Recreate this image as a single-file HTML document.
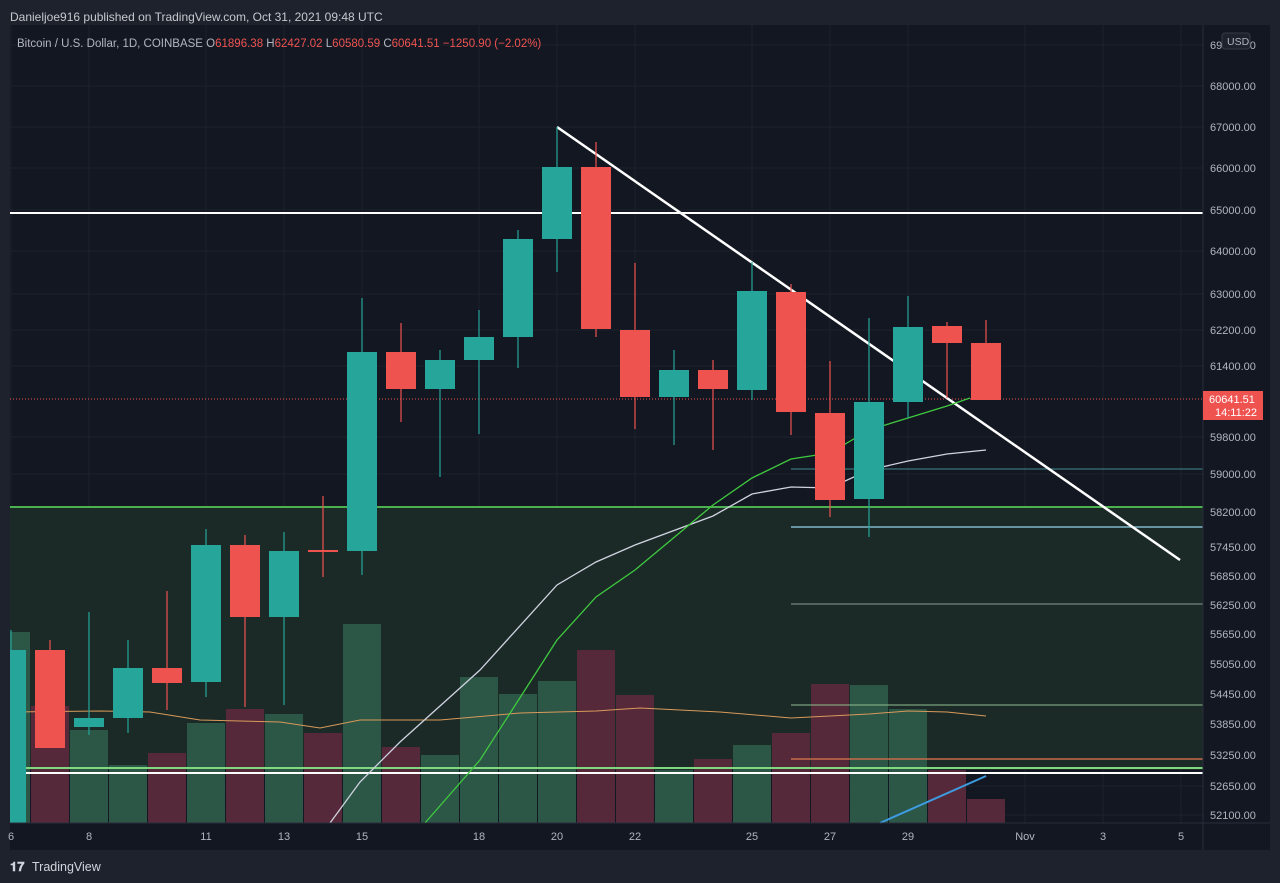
<!DOCTYPE html>
<html><head><meta charset="utf-8">
<style>
html,body{margin:0;padding:0;background:#1e222d;width:1280px;height:883px;overflow:hidden;font-family:"Liberation Sans",sans-serif}
svg{display:block}
</style></head><body>
<svg id="s" width="1280" height="883" xmlns="http://www.w3.org/2000/svg">
<rect width="1280" height="883" fill="#1e222d"/>
<rect x="10" y="25" width="1260" height="825" fill="#131722"/>
<g id="grid"></g>
<rect x="10" y="507" width="1193" height="263" fill="#1b2a27"/>
<g id="vol"></g>
<g id="ind"></g>
<g id="cdl"></g>
<g id="ax"></g>
<text x="10" y="21" fill="#c6c8ce" font-size="12">Danieljoe916 published on TradingView.com, Oct 31, 2021 09:48 UTC</text>
<text x="17" y="47" font-size="11.5" fill="#b2b5be">Bitcoin / U.S. Dollar, 1D, COINBASE  <tspan fill="#b2b5be">O</tspan><tspan fill="#ef5350">61896.38</tspan> <tspan fill="#b2b5be"> H</tspan><tspan fill="#ef5350">62427.02</tspan><tspan fill="#b2b5be">  L</tspan><tspan fill="#ef5350">60580.59</tspan><tspan fill="#b2b5be">  C</tspan><tspan fill="#ef5350">60641.51  −1250.90 (−2.02%)</tspan></text>
<text x="10" y="871" fill="#d1d4dc" font-size="13" font-weight="bold">𝟏𝟕</text>
<text x="32" y="871" fill="#d1d4dc" font-size="12.5">TradingView</text>
</svg>
<script>
const NS="http://www.w3.org/2000/svg";
function el(p,t,a){const e=document.createElementNS(NS,t);for(const k in a)e.setAttribute(k,a[k]);document.getElementById(p).appendChild(e);return e;}
const X=d=>11+(d-6)*39;
// grid
const ys=[45,86,127,168,210,251,294,330,366,437,474,512,547,576,605,634,664,694,724,755,786,815];
ys.forEach(y=>el("grid","line",{x1:10,x2:1203,y1:y,y2:y,stroke:"#1d212c","stroke-width":1}));
[6,8,11,13,15,18,20,22,25,27,29,32,34,36].forEach(d=>el("grid","line",{x1:X(d),x2:X(d),y1:25,y2:823,stroke:"#1d212c","stroke-width":1}));
// volume
const vol=[[6,632,1],[7,706,0],[8,730,1],[9,765,1],[10,753,0],[11,723,1],[12,709,0],[13,714,1],[14,733,0],[15,624,1],[16,747,0],[17,755,1],[18,677,1],[19,694,1],[20,681,1],[21,650,0],[22,695,0],[23,770,1],[24,759,0],[25,745,1],[26,733,0],[27,684,0],[28,685,1],[29,709,1],[30,770,0],[31,799,0]];
vol.forEach(([d,t,g])=>{let x=X(d)-19;let w=38;if(x<10){w-=10-x;x=10;}el("vol","rect",{x:x,y:t,width:w,height:823-t,fill:g?"#2c5646":"#55293a"});});
// lines
const L=(x1,y1,x2,y2,c,w)=>el("ind","line",{x1,y1,x2,y2,stroke:c,"stroke-width":w||1});
L(10,213,1203,213,"#ffffff",2);
L(10,507,1203,507,"#4caf50",2);
L(10,768,1203,768,"#7fd87f",2);
L(10,773,1203,773,"#ffffff",2);
L(10,399,1203,399,"#ef5350",1).setAttribute("stroke-dasharray","1,2");
L(791,469,1203,469,"#3e8c8c",1);
L(791,527,1203,527,"#7fb8cc",1.5);
L(791,604,1203,604,"#8a9a94",1);
L(791,705,1203,705,"#8fbf8f",1);
L(791,759,1203,759,"#c86a4a",1.5);
L(557,127,1180,560,"#ffffff",2.5);
L(880,823,986,776,"#3d9be0",2);
const pl=(pts,c,w)=>el("ind","polyline",{points:pts,fill:"none",stroke:c,"stroke-width":w||1});
pl("10,712 100,711 150,712 200,720 280,722 320,728 360,720 440,720 520,713 596,711 640,708 720,712 791,718 869,714 908,711 947,712 986,716","#d99a5a",1);
pl("330,823 360,782 400,742 480,670 557,585 596,562 635,545 713,516 752,494 791,487 830,488 869,470 908,461 947,454 986,450","#d0d3e0",1.3);
pl("425,823 480,760 557,640 596,597 635,570 713,505 752,478 791,459 830,453 869,430 908,418 947,406 970,398","#3fc93f",1.3);
// candles [day, bodyTop, bodyBot, wickTop, wickBot, green]
const C=[[6,650,823,630,823,1],[7,650,683+65,640,748,0],[8,718,727,612,735,1],[9,668,718,640,733,1],[10,668,683,591,710,0],[11,545,682,529,697,1],[12,545,617,535,707,0],[13,551,617,532,705,1],[14,550,552,496,577,0],[15,352,551,298,575,1],[16,352,389,323,422,0],[17,360,389,350,477,1],[18,337,360,310,434,1],[19,239,337,230,368,1],[20,167,239,127,272,1],[21,167,329,142,337,0],[22,330,397,263,429,0],[23,370,397,350,445,1],[24,370,389,360,450,0],[25,291,390,262,400,1],[26,292,412,284,435,0],[27,413,500,361,517,0],[28,402,499,318,537,1],[29,327,402,296,418,1],[30,326,343,322,398,0],[31,343,400,320,400,0]];
C.forEach(([d,bt,bb,wt,wb,g])=>{const c=g?"#26a69a":"#ef5350";const x=X(d);
el("cdl","line",{x1:x,x2:x,y1:wt,y2:wb,stroke:c,"stroke-width":1.2});
let bx=x-15,w=30;if(bx<10){w-=10-bx;bx=10;}
el("cdl","rect",{x:bx,y:bt,width:w,height:Math.max(1,bb-bt),fill:c});});
// axis
el("ax","rect",{x:1203,y:25,width:67,height:825,fill:"#131722"});
el("ax","line",{x1:1203,x2:1203,y1:25,y2:850,stroke:"#2a2e39"});
el("ax","line",{x1:10,x2:1270,y1:823,y2:823,stroke:"#2a2e39"});
const labs=[[45,"69000.00"],[86,"68000.00"],[127,"67000.00"],[168,"66000.00"],[210,"65000.00"],[251,"64000.00"],[294,"63000.00"],[330,"62200.00"],[366,"61400.00"],[437,"59800.00"],[474,"59000.00"],[512,"58200.00"],[547,"57450.00"],[576,"56850.00"],[605,"56250.00"],[634,"55650.00"],[664,"55050.00"],[694,"54450.00"],[724,"53850.00"],[755,"53250.00"],[786,"52650.00"],[815,"52100.00"]];
labs.forEach(([y,t])=>{const e=el("ax","text",{x:1210,y:y+4,fill:"#b2b5be","font-size":11});e.textContent=t;});
el("ax","rect",{x:1222,y:33,width:28,height:16,rx:3,fill:"#1e222d",stroke:"#363a45"});
const u=el("ax","text",{x:1227,y:45,fill:"#b2b5be","font-size":10.5});u.textContent="USD";
el("ax","rect",{x:1203,y:391,width:60,height:29,fill:"#ef5350"});
const p1=el("ax","text",{x:1209,y:403,fill:"#ffffff","font-size":11});p1.textContent="60641.51";
const p2=el("ax","text",{x:1215,y:416,fill:"#ffffff","font-size":11});p2.textContent="14:11:22";
[[6,"6"],[8,"8"],[11,"11"],[13,"13"],[15,"15"],[18,"18"],[20,"20"],[22,"22"],[25,"25"],[27,"27"],[29,"29"],[32,"Nov"],[34,"3"],[36,"5"]].forEach(([d,t])=>{const e=el("ax","text",{x:X(d),y:840,fill:"#b2b5be","font-size":11,"text-anchor":"middle"});e.textContent=t;});
</script>
</body></html>
